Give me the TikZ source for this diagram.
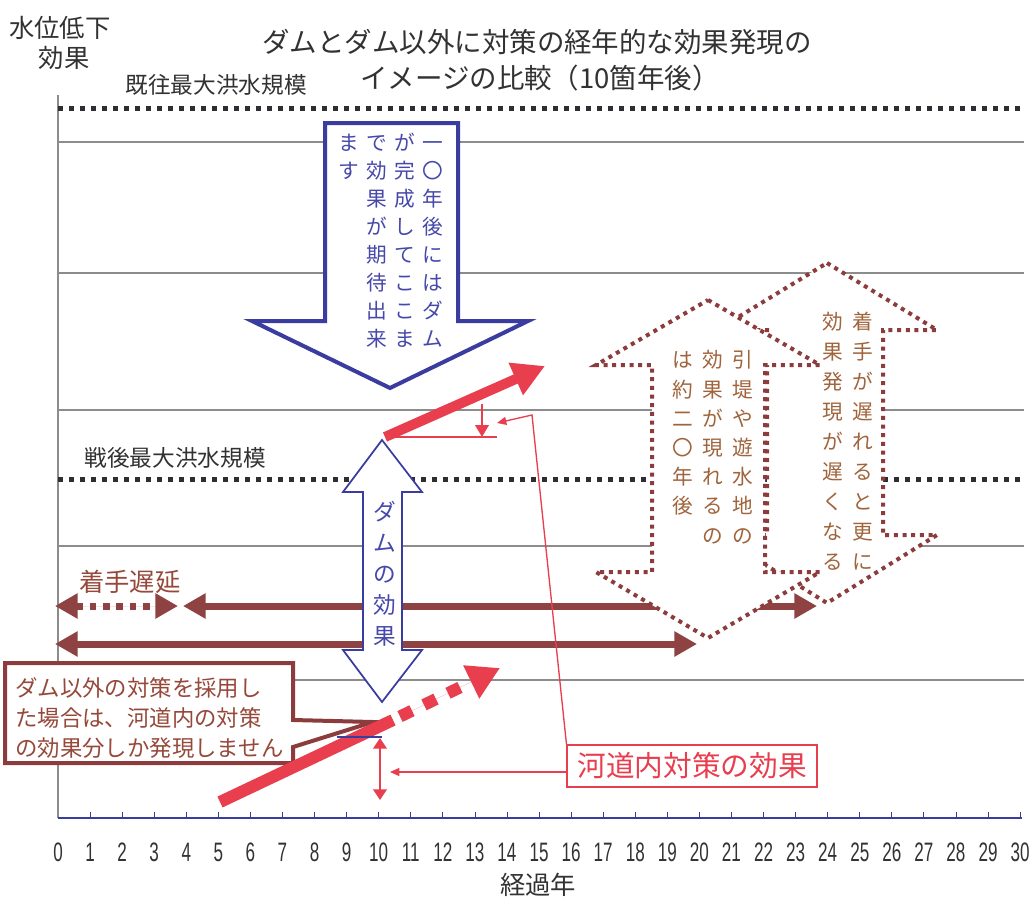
\documentclass[tikz,border=0pt]{standalone}
\usepackage{fontspec}
\newfontfamily\jp{Noto Sans CJK JP}
\newfontfamily\numf[FakeStretch=0.64]{Liberation Sans}
\usetikzlibrary{arrows.meta,calc}
\definecolor{gridgray}{RGB}{140,140,140}
\definecolor{dotblack}{RGB}{45,45,50}
\definecolor{txtgray}{RGB}{50,50,50}
\definecolor{bluel}{RGB}{58,60,160}
\definecolor{bluet}{RGB}{70,72,170}
\definecolor{redl}{RGB}{232,62,78}
\definecolor{maroonl}{RGB}{140,60,60}
\definecolor{maroona}{RGB}{142,66,66}
\definecolor{maroont}{RGB}{150,72,58}
\definecolor{brownt}{RGB}{160,100,60}
\newcommand\vcolumn[6]{\foreach \c [count=\i] in {#6}{\node[#5] (#1\i) at (#2,{#3+(\i-1)*#4}) {\c};}}
\tikzset{
  gridline/.style={draw=gridgray, line width=0.8pt},
  axisline/.style={draw=bluel, line width=1.2pt},
  blackdots/.style={draw=dotblack, line width=3.75pt, dash pattern=on 3.75pt off 4.5pt},
  marr/.style={draw=maroona, fill=maroona, line width=5.25pt},
  bigblue/.style={draw=bluel, fill=white, line width=3pt, line join=miter},
  damblue/.style={draw=bluel, fill=white, line width=1.3pt, line join=miter},
  dotarr/.style={draw=maroonl, fill=white, line width=3pt, dash pattern=on 3pt off 3.5pt},
  callout/.style={draw=maroonl, fill=white, line width=3pt, line join=miter},
  redthick/.style={draw=redl, fill=redl},
  redthin/.style={draw=redl, line width=1.1pt},
  jpf/.style={font=\jp\fontsize{#1}{#1}\selectfont, inner sep=0pt},
  vblue/.style={font=\jp\fontsize{15.5}{15.5}\selectfont, text=bluet, inner sep=0pt, text height=13.6pt, text depth=1.9pt},
  vdam/.style={font=\jp\fontsize{17}{17}\selectfont, text=bluet, inner sep=0pt, text height=15pt, text depth=2pt},
  vbrown/.style={font=\jp\fontsize{15.5}{15.5}\selectfont, text=brownt, inner sep=0pt, text height=13.6pt, text depth=1.9pt},
  ticklbl/.style={font=\numf\fontsize{20}{20}\selectfont, text=txtgray, inner sep=0pt},
  calltext/.style={font=\jp\fontsize{16.8}{22.5}\selectfont, text=maroont, align=left, inner sep=0pt},
  redbox/.style={draw=redl, line width=1.3pt, text=redl, font=\jp\fontsize{21.5}{21.5}\selectfont, minimum width=187pt, minimum height=31.5pt, inner sep=0pt, fill=white},
}
\begin{document}
\begin{tikzpicture}[x=0.75pt,y=-0.75pt]
\useasboundingbox (0,0) rectangle (1036,900);
\fill[white] (0,0) rectangle (1036,900);

% grid and axes
\foreach \yy in {142,273,410,546,680} \draw[gridline] (58,\yy) -- (1024,\yy);
\draw[gridline] (58,95) -- (58,818);
\draw[axisline] (58,818) -- (1022,818);
\foreach \k in {1,...,30} \draw[axisline,line width=0.6pt] ({58+32.07*\k},818) -- ({58+32.07*\k},812);
\foreach \k in {0,...,30} \node[ticklbl] (tk\k) at ({58+32.07*\k},852) {\k};

% dotted reference levels
\draw[blackdots] (58,108) -- (1020,108);
\draw[blackdots] (58,479) -- (1020,479);

% maroon arrows
\draw[marr, dash pattern=on 5pt off 5pt, {Triangle[length=17pt,width=18pt]}-{Triangle[length=17pt,width=18pt]}] (55,606) -- (178,606);
\draw[marr, {Triangle[length=17pt,width=18pt]}-{Triangle[length=17pt,width=18pt]}] (183,606) -- (817,606);
\draw[marr, {Triangle[length=17pt,width=18pt]}-{Triangle[length=17pt,width=18pt]}] (55,644) -- (697,644);

% blue arrows
\draw[bigblue] (325,123) -- (458,123) -- (458,321) -- (528,321) -- (390,388) -- (252,321) -- (325,321) -- cycle;
\draw[damblue] (382,440) -- (422,492) -- (402,492) -- (402,650) -- (422,650) -- (382,702) -- (343,650) -- (363,650) -- (363,492) -- (343,492) -- cycle;

% dotted block arrows
\draw[dotarr] (827,263) -- (937,330) -- (883,330) -- (883,535) -- (937,535) -- (827,603) -- (717,535) -- (767,535) -- (767,330) -- (717,330) -- cycle;
\draw[dotarr] (708,300) -- (820,365) -- (765,365) -- (765,572) -- (820,572) -- (708,638) -- (596,572) -- (652,572) -- (652,365) -- (596,365) -- cycle;

% callout
\draw[callout] (5,663) -- (293,663) -- (293,720) -- (373,722) -- (293,747) -- (293,763) -- (5,763) -- cycle;
\node[calltext, anchor=west] (ct) at (15,718) {ダム以外の対策を採用し\\た場合は、河道内の対策\\の効果分しか発現しません};

% red arrows
\draw[redthick, line width=7.5pt, -{Triangle[length=24pt,width=25pt]}] (385,437) -- (545,366);
\draw[redthin] (385,437) -- (497,437);
\draw[redl, line width=2pt, -{Triangle[length=9pt,width=10pt]}] (482,404) -- (482,437);
\draw[redthick, line width=9pt] (220,802) -- (393,720);
\draw[redthick, line width=9pt, dash pattern=on 10pt off 10pt, -{Triangle[length=24pt,width=26pt]}] (400,716.5) -- (500,668);
\draw[bluel, line width=1.3pt] (337,737) -- (382,737);
\draw[redl, line width=2pt, {Triangle[length=8pt,width=10pt]}-{Triangle[length=8pt,width=10pt]}] (380,738) -- (380,800);

% red label and pointers
\node[redbox] (lbl) at (692,766) {河道内対策の効果};
\coordinate (pc) at (532,415);
\coordinate (pt1) at (497,423);
\coordinate (pt2) at (390,772);
\draw[redthin, line width=1pt, -{Triangle[length=7pt,width=6pt]}] (lbl.north west) -- (pc) -- (pt1);
\draw[redthin, line width=1pt, -{Triangle[length=7pt,width=6pt]}] ([yshift=-4.5pt]lbl.west) -- (pt2);

% texts
\node[jpf=19, text=txtgray] (yl1) at (60,28) {水位低下};
\node[jpf=19, text=txtgray] (yl2) at (64,58) {効果};
\node[jpf=20.6, text=txtgray] (ti1) at (537,42) {ダムとダム以外に対策の経年的な効果発現の};
\node[jpf=20.6, text=txtgray] (ti2) at (540,78) {イメージの比較（10箇年後）};
\node[jpf=17, text=txtgray] (kio) at (216,85) {既往最大洪水規模};
\node[jpf=17, text=txtgray] (sen) at (175,458) {戦後最大洪水規模};
\node[jpf=19, text=maroont] (cht) at (130,582) {着手遅延};
\node[jpf=19, text=txtgray] (xl) at (538,885) {経過年};

\vcolumn{ba}{433}{143}{28}{vblue}{一,〇,年,後,に,は,ダ,ム}
\vcolumn{bb}{405}{143}{28}{vblue}{が,完,成,し,て,こ,こ,ま}
\vcolumn{bc}{377}{143}{28}{vblue}{で,効,果,が,期,待,出,来}
\vcolumn{bd}{349}{143}{28}{vblue}{ま,す}
\vcolumn{dm}{385}{512}{31}{vdam}{ダ,ム,の,効,果}
\vcolumn{aa}{743}{360}{29.2}{vbrown}{引,堤,や,遊,水,地,の}
\vcolumn{ab}{713}{360}{29.2}{vbrown}{効,果,が,現,れ,る,の}
\vcolumn{ac}{683}{360}{29.2}{vbrown}{は,約,二,〇,年,後}
\vcolumn{bx}{863}{322}{30}{vbrown}{着,手,が,遅,れ,る,と,更,に}
\vcolumn{by}{833}{322}{30}{vbrown}{効,果,発,現,が,遅,く,な,る}
\end{tikzpicture}
\end{document}
